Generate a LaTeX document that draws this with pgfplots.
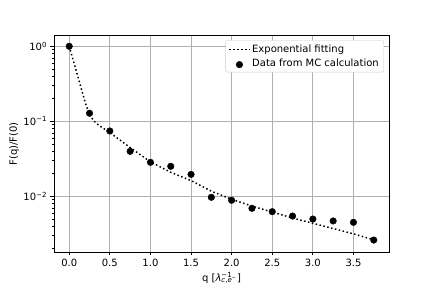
\documentclass[border=0pt]{standalone}
\usepackage{fontspec}
\setmainfont{DejaVu Sans}
\usepackage{pgfplots}
\pgfplotsset{compat=1.18}
\definecolor{gridgray}{HTML}{B0B0B0}
\definecolor{legedge}{HTML}{CCCCCC}
\pgfplotsset{
  linelegend/.style={legend image code/.code={\draw[##1] (0pt,0pt) -- (20pt,0pt);}},
  marklegend/.style={legend image code/.code={\draw[mark repeat=2,mark phase=2,##1] plot coordinates {(0pt,-1.5pt) (10pt,-1.5pt) (20pt,-1.5pt)};}},
}
\begin{document}
\begin{tikzpicture}
\path[use as bounding box] (-54pt,-36pt) rectangle (378pt,252pt);
\begin{axis}[
  at={(0pt,0pt)}, anchor=south west,
  scale only axis, width=335pt, height=216.5pt,
  ymode=log,
  xmin=-0.1875, xmax=3.9375, ymin=0.00181, ymax=1.393,
  xtick={0,0.5,1,1.5,2,2.5,3,3.5},
  ytick={1,0.1,0.01},
  yticklabels={10\textsuperscript{0},10\textsuperscript{−1},10\textsuperscript{−2}},
  minor ytick={0.002,0.003,0.004,0.005,0.006,0.007,0.008,0.009,0.02,0.03,0.04,0.05,0.06,0.07,0.08,0.09,0.2,0.3,0.4,0.5,0.6,0.7,0.8,0.9},
  xticklabel style={/pgf/number format/.cd, fixed, fixed zerofill, precision=1, assume math mode=true},
  ticklabel style={font=\fontsize{10}{12}\selectfont},
  grid=major,
  major grid style={gridgray, line width=0.8pt},
  tick align=outside, tick pos=left,
  major tick length=3.5pt, minor tick length=2pt,
  major tick style={black, line width=0.8pt},
  minor tick style={black, line width=0.6pt},
  axis line style={line width=0.8pt},
  xlabel={q [\textit{λ}\rlap{\textsuperscript{−1}}\textsubscript{\textit{c},\textit{e}\textsuperscript{−}}]},
  ylabel={F(q)/F(0)},
  label style={font=\fontsize{10}{12}\selectfont},
  xlabel style={at={(axis description cs:0.5,-0.12)}, anchor=center},
  ylabel style={at={(axis description cs:-0.119,0.5)}, anchor=center, rotate=0},
  legend style={at={(0.985,0.978)}, anchor=north east, draw=legedge, rounded corners=2pt,
    fill=white, font=\fontsize{10}{12}\selectfont,
    inner xsep=3pt, inner ysep=2.5pt, row sep=0.5pt},
  legend cell align=left,
]
\addplot[black, line width=1.5pt, dash pattern=on 1.5pt off 2.475pt, linelegend] coordinates {
(0,1.0) (0.05,0.6457) (0.1,0.4169) (0.15,0.2692) (0.2,0.1738) (0.25,0.1230)
(0.3,0.1023) (0.35,0.0912) (0.4,0.0832) (0.5,0.0708) (0.6,0.0589) (0.75,0.0447)
(1.0,0.0288) (1.25,0.0209) (1.5,0.0162) (1.75,0.0117) (2.0,0.00912) (2.25,0.00741)
(2.5,0.00617) (2.75,0.00513) (3.0,0.00437) (3.25,0.00372) (3.5,0.00316) (3.75,0.00263)
};
\addlegendentry{Exponential fitting}
\addplot[only marks, mark=*, mark size=3.3pt, black, marklegend] coordinates {
(0,1.0) (0.25,0.128) (0.5,0.0743) (0.75,0.0398) (1.0,0.0284) (1.25,0.0251)
(1.5,0.0196) (1.75,0.0097) (2.0,0.00885) (2.25,0.00692) (2.5,0.00624) (2.75,0.00546)
(3.0,0.00498) (3.25,0.00469) (3.5,0.0045) (3.75,0.00261)
};
\addlegendentry{Data from MC calculation}
\end{axis}
\end{tikzpicture}
\end{document}
